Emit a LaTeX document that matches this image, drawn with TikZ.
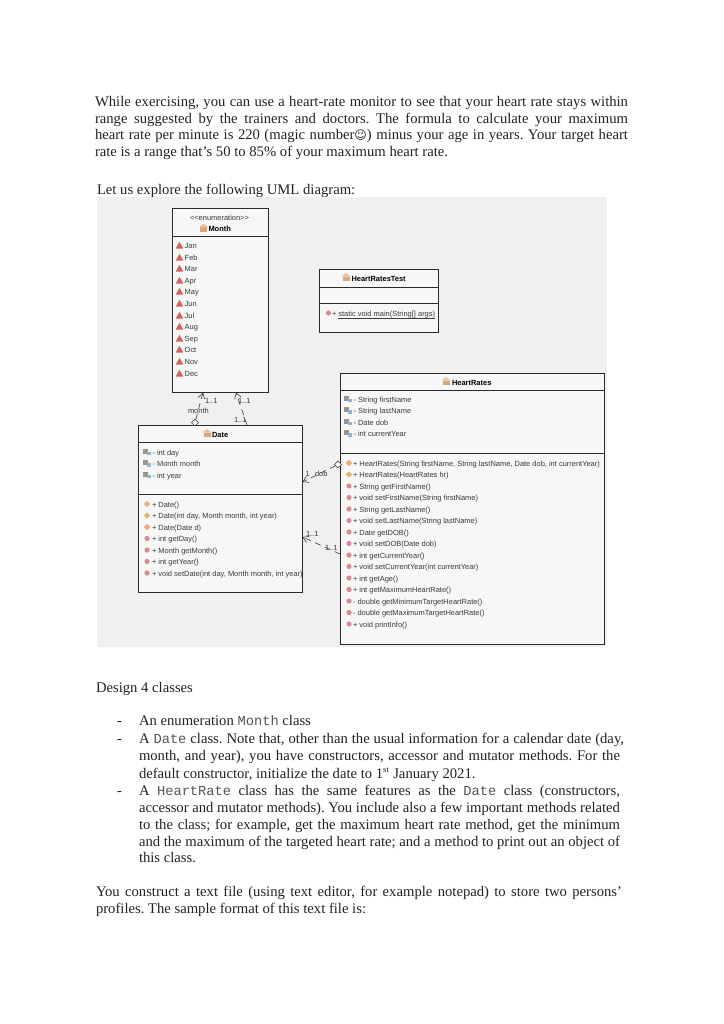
\documentclass[tikz,border=0pt]{standalone}
\usepackage{fontspec}
\setmainfont{Liberation Serif}
\setsansfont{Liberation Sans}
\setmonofont{Liberation Mono}
\usetikzlibrary{shapes.geometric,arrows.meta}
\definecolor{panel}{HTML}{F0F0F0}
\definecolor{boxfill}{HTML}{F7F7F7}
\definecolor{boxline}{HTML}{2A2A2A}
\definecolor{umltext}{HTML}{3A3A3A}
\definecolor{monotext}{HTML}{555555}
\definecolor{pagetext}{HTML}{222222}
\definecolor{enumred}{HTML}{D9605A}
\definecolor{methred}{HTML}{D98A92}
\definecolor{ctororange}{HTML}{E5B070}
\definecolor{fieldgrey}{HTML}{9A948C}
\definecolor{fieldblue}{HTML}{8FB4CC}
\definecolor{classtan}{HTML}{D9A878}
\tikzset{
 pagetxt/.style={anchor=base west,inner sep=0pt,outer sep=0pt,text=pagetext,font=\fontsize{11}{13}\selectfont},
 umlbox/.style={draw=boxline,fill=boxfill,line width=0.6pt,anchor=north west,inner sep=0pt,outer sep=0pt},
 sepline/.style={draw=boxline,line width=0.6pt},
 umltxt/.style={anchor=base west,inner sep=0pt,outer sep=0pt,text=umltext,font=\sffamily\fontsize{5.6}{7}\selectfont},
 umltitle/.style={anchor=base west,inner sep=0pt,outer sep=0pt,text=black,font=\sffamily\bfseries\fontsize{5.6}{7}\selectfont},
 dep/.style={draw=umltext,line width=0.45pt,dash pattern=on 4.5pt off 3.5pt},
 openarrow/.style={-{Straight Barb[length=4pt,width=5pt]}},
 aggr/.style={draw=umltext,fill=white,line width=0.4pt,diamond,inner sep=0pt,minimum width=5.5pt,minimum height=5.5pt},
}
\frenchspacing
\newcommand{\JL}[5]{\node[pagetxt] (#1) at (#2,#3) {\makebox[\dimexpr 0.75pt*#4\relax][s]{#5}};}
\newcommand{\PL}[4]{\node[pagetxt] (#1) at (#2,#3) {#4};}
\newcommand{\TT}[1]{{\ttfamily\fontsize{10.3}{13}\selectfont\color{monotext}#1}}
\newcommand{\IEnum}[2]{\fill[enumred] (#1-3.7,#2+0.5) -- (#1,#2-6.2) -- (#1+3.7,#2+0.5) -- cycle;}
\newcommand{\IField}[2]{\fill[fieldgrey] (#1-4,#2-6.5) rectangle (#1+1,#2-1.5);\fill[fieldblue] (#1,#2-3.5) rectangle (#1+4,#2);}
\newcommand{\ICtor}[2]{\fill[ctororange] (#1-3.2,#2-3) -- (#1,#2-6) -- (#1+3.2,#2-3) -- (#1,#2) -- cycle;}
\newcommand{\IMeth}[2]{\fill[methred] (#1,#2-3) circle (2.6);}
\newcommand{\IClass}[2]{\fill[classtan] (#1-3.5,#2) rectangle (#1+3.5,#2-4.5);\fill[classtan!70!white] (#1-4.5,#2-4.5) -- (#1,#2-8) -- (#1+4.5,#2-4.5) -- cycle;}
\begin{document}
\begin{tikzpicture}[x=0.75pt,y=-0.75pt]
\useasboundingbox (0,0) rectangle (724,1024);
\fill[white] (0,0) rectangle (724,1024);
% top paragraph
\JL{p1}{95}{106}{533}{While exercising, you can use a heart-rate monitor to see that your heart rate stays within}
\JL{p2}{95}{123}{533}{range suggested by the trainers and doctors. The formula to calculate your maximum}
\JL{p3}{95}{139.5}{533}{heart rate per minute is 220 (magic number{\fontspec{DejaVu Sans}\fontsize{9}{10}\selectfont ☺}) minus your age in years. Your target heart}
\PL{p4}{95}{156.5}{rate is a range that’s 50 to 85\% of your maximum heart rate.}
\PL{p5}{97}{194}{Let us explore the following UML diagram:}
% panel
\fill[panel] (97,197) rectangle (607,647);
% boxes
\node[umlbox,minimum width=96*0.75pt,minimum height=184*0.75pt] (month) at (172,208) {};
\draw[sepline] (172,236) -- (268,236);
\node[umlbox,minimum width=119*0.75pt,minimum height=63*0.75pt] (test) at (319,269) {};
\draw[sepline] (319,287) -- (438,287);
\draw[sepline] (319,303) -- (438,303);
\node[umlbox,minimum width=264*0.75pt,minimum height=271*0.75pt] (hr) at (340,373) {};
\draw[sepline] (340,390) -- (604,390);
\draw[sepline] (340,453) -- (604,453);
\node[umlbox,minimum width=164*0.75pt,minimum height=167*0.75pt] (date) at (138,425) {};
\draw[sepline] (138,442) -- (302,442);
\draw[sepline] (138,494) -- (302,494);
% Month
\node[umltxt] (menum) at (190,220) {<{}<enumeration>{}>};
\IClass{203.5}{231.5}
\node[umltitle] (mt) at (208.5,231) {Month};
\foreach \nm/\yy in {Jan/248,Feb/260,Mar/271,Apr/283,May/294,Jun/306,Jul/318,Aug/329,Sep/341,Oct/352,Nov/364,Dec/376}{
 \IEnum{179.5}{\yy}
 \node[umltxt] (m\nm) at (184.7,\yy) {\nm};
}
% Test
\IClass{346}{281}
\node[umltitle] (tt) at (351.5,281) {HeartRatesTest};
\IMeth{328.5}{316}
\node[umltxt] (tm) at (332,316) {+ \underline{\smash{static void main(String[] args)}}};
% HeartRates
\IClass{446}{385}
\node[umltitle] (ht) at (452,385) {HeartRates};
\foreach \tx [count=\i from 0] in {- String firstName,- String lastName,- Date dob,- int currentYear}{
 \pgfmathsetmacro{\yy}{402+\i*11.5}
 \IField{348}{\yy}
 \node[umltxt] (hf\i) at (353.5,\yy) {\tx};
}
\foreach \tx [count=\i from 0] in {{+ HeartRates(String firstName, String lastName, Date dob, int currentYear)},{+ HeartRates(HeartRates hr)}}{
 \pgfmathsetmacro{\yy}{466+\i*11.5}
 \ICtor{349}{\yy}
 \node[umltxt] (hc\i) at (353,\yy) {\tx};
}
\foreach \tx [count=\i from 0] in {+ String getFirstName(),+ void setFirstName(String firstName),+ String getLastName(),+ void setLastName(String lastName),+ Date getDOB(),+ void setDOB(Date dob),+ int getCurrentYear(),+ void setCurrentYear(int currentYear),+ int getAge(),+ int getMaximumHeartRate(),- double getMinimumTargetHeartRate(),- double getMaximumTargetHeartRate(),+ void printInfo()}{
 \pgfmathsetmacro{\yy}{489+\i*11.5}
 \IMeth{349}{\yy}
 \node[umltxt] (hm\i) at (353,\yy) {\tx};
}
% Date
\IClass{207}{437}
\node[umltitle] (dt) at (212,437) {Date};
\foreach \tx [count=\i from 0] in {- int day,- Month month,- int year}{
 \pgfmathsetmacro{\yy}{455+\i*11.5}
 \IField{147}{\yy}
 \node[umltxt] (df\i) at (152.5,\yy) {\tx};
}
\foreach \tx [count=\i from 0] in {+ Date(),{+ Date(int day, Month month, int year)},+ Date(Date d)}{
 \pgfmathsetmacro{\yy}{507+\i*11.5}
 \ICtor{147}{\yy}
 \node[umltxt] (dc\i) at (152,\yy) {\tx};
}
\foreach \tx [count=\i from 0] in {+ int getDay(),+ Month getMonth(),+ int getYear(),{+ void setDate(int day, Month month, int year)}}{
 \pgfmathsetmacro{\yy}{541.5+\i*11.5}
 \IMeth{147}{\yy}
 \node[umltxt] (dm\i) at (152,\yy) {\tx};
}
% connectors
\node[aggr] (a1) at (195,422.5) {};
\node[aggr] (a2) at (338,464.5) {};
\coordinate (c1) at (203,392.5);
\coordinate (c2) at (236,392.5);
\coordinate (c3) at (247,425);
\coordinate (c4) at (302.5,482);
\coordinate (c5) at (302.5,537);
\coordinate (c6) at (340,554);
\draw[dep,openarrow] (a1) -- (c1);
\draw[dep,openarrow] (c3) -- (c2);
\draw[dep,openarrow] (a2) -- (c4);
\draw[dep,openarrow] (c6) -- (c5);
\node[umltxt] (l1) at (205,403) {1..1};
\node[umltxt] (l2) at (238,403) {1..1};
\node[umltxt] (l3) at (188,413) {month};
\node[umltxt] (l4) at (234,422) {1..1};
\node[umltxt] (l5) at (305.5,476) {1};
\node[umltxt] (l6) at (315,476) {dob};
\node[umltxt] (l7) at (306,536) {1..1};
\node[umltxt] (l8) at (325,550.5) {1..1};
% bottom
\PL{q1}{96}{692}{Design 4 classes}
\PL{d1}{117}{725.5}{-}
\PL{q2}{139}{725.5}{An enumeration \TT{Month} class}
\PL{d2}{117}{743}{-}
\JL{q3}{139}{743}{485}{A \TT{Date} class. Note that, other than the usual information for a calendar date (day,}
\JL{q4}{139}{760.5}{481}{month, and year), you have constructors, accessor and mutator methods. For the}
\PL{q5}{139}{778}{default constructor, initialize the date to 1\textsuperscript{\fontsize{6.5}{7}\selectfont st} January 2021.}
\PL{d3}{117}{795}{-}
\JL{q6}{139}{795}{481}{A \TT{HeartRate} class has the same features as the \TT{Date} class (constructors,}
\JL{q7}{139}{812.5}{481}{accessor and mutator methods). You include also a few important methods related}
\JL{q8}{139}{829}{481}{to the class; for example, get the maximum heart rate method, get the minimum}
\JL{q9}{139}{846}{481}{and the maximum of the targeted heart rate; and a method to print out an object of}
\PL{q10}{139}{862.5}{this class.}
\JL{q11}{96}{896.5}{526}{You construct a text file (using text editor, for example notepad) to store two persons’}
\PL{q12}{96}{913.5}{profiles. The sample format of this text file is:}
\end{tikzpicture}
\end{document}
